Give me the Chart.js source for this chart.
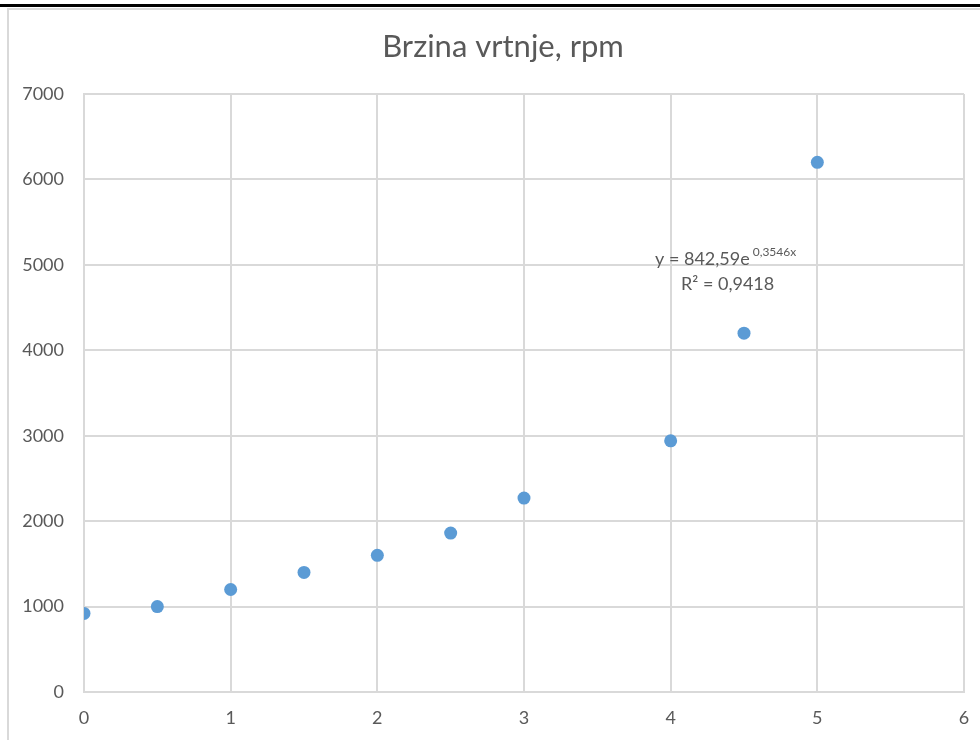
<!DOCTYPE html>
<html>
<head>
<meta charset="utf-8">
<script src="https://cdn.jsdelivr.net/npm/chart.js@4/dist/chart.umd.min.js"></script>
<style>
  html, body { margin: 0; padding: 0; background: #fff; }
  body { width: 980px; height: 740px; position: relative; overflow: hidden; }
  .rule { position: absolute; left: 0; top: 4px; width: 980px; height: 3px; background: #000; }
  .frame { position: absolute; left: 7px; top: 8px; width: 1000px; height: 800px;
           border-left: 2px solid #d9d9d9; border-top: 2px solid #d9d9d9; }
  #wrap { position: absolute; left: 0; top: 0; width: 980px; height: 740px; }
</style>
</head>
<body>
<div class="rule"></div>
<div class="frame"></div>
<div id="wrap"><canvas id="chart"></canvas></div>
<script>
const xValues = [0, 0.5, 1, 1.5, 2, 2.5, 3, 4, 4.5, 5];
const rpmValues = [920, 1000, 1200, 1400, 1600, 1860, 2270, 2940, 4200, 6200];
const chartTitle = "Brzina vrtnje, rpm";
const trendEquation = ["y = 842,59e", "0,3546x"];
const trendR2 = "R² = 0,9418";

const FONT = "Lato, 'Liberation Sans', sans-serif";
const GREY_TEXT = "#595959";
const GRID = "#d9d9d9";

// title sits centred on the whole chart box (which starts at the frame line), not the canvas
const titleText = {
  id: "titleText",
  afterDraw(chart) {
    const { ctx, chartArea } = chart;
    ctx.save();
    ctx.fillStyle = GREY_TEXT;
    ctx.font = "31px " + FONT;
    ctx.textAlign = "center";
    ctx.textBaseline = "middle";
    ctx.fillText(chartTitle, (chartArea.left + chartArea.right) / 2 - 21, chartArea.top - 47);
    ctx.restore();
  }
};

// Excel puts the trendline label as a floating text box
const trendLabel = {
  id: "trendLabel",
  afterDatasetsDraw(chart) {
    const { ctx, chartArea } = chart;
    const x0 = chartArea.left + 571;
    const y0 = chartArea.top + 171;
    ctx.save();
    ctx.fillStyle = GREY_TEXT;
    ctx.textBaseline = "alphabetic";
    ctx.textAlign = "left";
    ctx.font = "18px " + FONT;
    ctx.fillText(trendEquation[0], x0, y0);
    const w = ctx.measureText(trendEquation[0]).width;
    ctx.font = "12px " + FONT;
    ctx.fillText(trendEquation[1], x0 + w + 3, y0 - 9);
    ctx.font = "18px " + FONT;
    ctx.fillText(trendR2, x0 + 26, y0 + 25);
    ctx.restore();
  }
};

new Chart(document.getElementById("chart"), {
  type: "scatter",
  data: {
    datasets: [
      {
        label: chartTitle,
        data: xValues.map((x, i) => ({ x, y: rpmValues[i] })),
        backgroundColor: "#5b9bd5",
        borderColor: "#5b9bd5",
        borderWidth: 0,
        pointRadius: 6.5,
        pointHoverRadius: 6.5
      }
    ]
  },
  options: {
    responsive: true,
    maintainAspectRatio: false,
    animation: false,
    layout: {
      padding: { left: 0, right: 16, top: 94, bottom: 0 }
    },
    plugins: {
      legend: { display: false },
      tooltip: { enabled: false },
      title: { display: false }
    },
    scales: {
      x: {
        type: "linear",
        min: 0,
        max: 6,
        afterFit(scale) {
          scale.height = 48;
          scale.paddingLeft = 0;
          scale.paddingRight = 0;
        },
        ticks: {
          stepSize: 1,
          color: GREY_TEXT,
          padding: 15,
          font: { family: FONT, size: 18 }
        },
        grid: { color: GRID, lineWidth: 2, drawTicks: false },
        border: { color: GRID, width: 2 }
      },
      y: {
        min: 0,
        max: 7000,
        afterFit(scale) {
          scale.width = 84;
          scale.paddingTop = 0;
          scale.paddingBottom = 0;
        },
        ticks: {
          stepSize: 1000,
          color: GREY_TEXT,
          padding: 20,
          font: { family: FONT, size: 18 },
          callback(value) {
            return String(value);
          }
        },
        grid: { color: GRID, lineWidth: 2, drawTicks: false },
        border: { color: GRID, width: 2 }
      }
    }
  },
  plugins: [titleText, trendLabel]
});
</script>
</body>
</html>
